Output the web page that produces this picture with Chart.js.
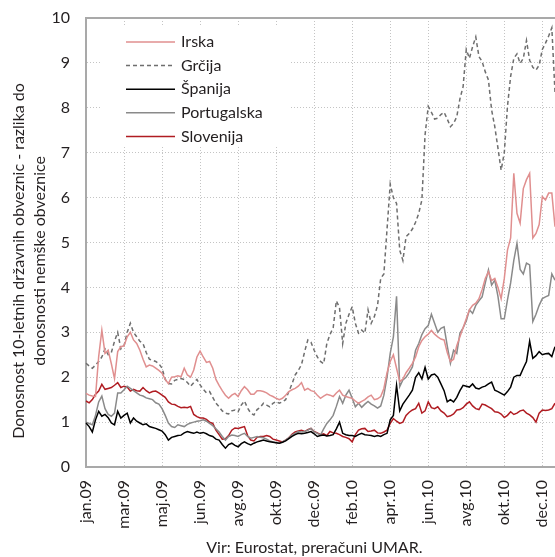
<!DOCTYPE html>
<html>
<head>
<meta charset="utf-8">
<script src="https://cdn.jsdelivr.net/npm/chart.js@4.4.0/dist/chart.umd.min.js"></script>
<style>
  html, body { margin: 0; padding: 0; background: #fff; overflow: hidden; }
  #wrap { width: 555px; height: 557px; position: relative; }
</style>
</head>
<body>
<div id="wrap"><canvas id="chart"></canvas></div>
<script>
// tick labels on the x axis, one every 12 points
var tickLabels = ['jan.09', 'mar.09', 'maj.09', 'jun.09', 'avg.09', 'okt.09', 'dec.09',
  'feb.10', 'apr.10', 'jun.10', 'avg.10', 'okt.10', 'dec.10'];
var pointsPerTick = 12;

var seriesNames = ['Irska', 'Grčija', 'Španija', 'Portugalska', 'Slovenija'];

var irska = [
  1.64,1.6,1.58,1.57,2.46,3.05,2.53,2.6,2.3,1.97,2.57,2.68,
  2.7,2.9,3.0,2.83,2.75,2.6,2.4,2.23,2.27,2.25,2.2,2.15,
  2.09,1.95,1.86,2.0,2.01,2.03,2.01,2.2,2.05,2.0,2.16,2.45,
  2.58,2.45,2.33,2.35,2.2,1.95,1.82,1.7,1.6,1.53,1.6,1.64,
  1.57,1.7,1.79,1.72,1.62,1.62,1.7,1.7,1.68,1.65,1.6,1.57,
  1.53,1.5,1.53,1.6,1.68,1.72,1.75,1.8,1.88,1.71,1.75,1.7,
  1.68,1.6,1.53,1.58,1.62,1.6,1.57,1.65,1.71,1.6,1.57,1.55,
  1.53,1.47,1.42,1.46,1.5,1.56,1.6,1.5,1.52,1.57,1.75,2.1,
  2.35,2.5,2.2,1.9,1.96,2.1,2.2,2.31,2.45,2.68,2.82,2.9,
  2.96,3.04,2.96,2.9,2.85,2.83,2.55,2.35,2.4,2.7,2.9,3.1,
  3.3,3.5,3.6,3.65,3.75,3.95,4.2,4.35,4.15,4.2,4.0,3.75,
  4.2,4.83,5.1,6.54,5.65,5.43,6.2,6.4,6.54,5.1,5.2,5.4,
  6.02,5.95,6.1,6.1,5.35
];

var grcija = [
  2.31,2.25,2.2,2.27,2.35,2.45,2.63,2.5,2.55,2.8,3.0,2.63,
  2.7,3.0,3.2,3.0,2.9,2.8,2.75,2.55,2.4,2.38,2.35,2.3,
  2.2,1.95,1.86,1.85,1.93,1.95,1.97,1.95,1.88,1.8,1.88,1.95,
  1.83,1.73,1.65,1.68,1.55,1.42,1.34,1.25,1.2,1.18,1.25,1.27,
  1.23,1.38,1.47,1.31,1.2,1.16,1.28,1.33,1.42,1.38,1.34,1.42,
  1.46,1.42,1.45,1.5,1.68,1.85,2.05,2.15,2.28,2.57,2.83,2.78,
  2.6,2.45,2.35,2.3,2.75,2.95,3.1,3.7,3.55,2.75,3.2,3.4,
  3.57,3.2,2.98,3.05,2.98,3.5,3.2,3.35,3.6,4.2,4.3,5.3,
  6.3,6.0,5.87,4.83,4.6,5.13,5.2,5.3,5.45,5.65,5.95,7.4,
  8.03,7.9,7.75,7.77,7.85,7.9,7.75,7.58,7.65,7.8,8.2,8.47,
  9.3,9.1,9.36,9.58,9.14,9.03,8.8,8.62,7.95,7.58,7.1,6.61,
  7.0,8.03,8.7,9.1,9.2,8.99,9.1,9.5,9.06,8.9,8.84,8.95,
  9.3,9.44,9.6,9.78,8.35
];

var spanija = [
  0.98,0.9,0.78,1.05,1.24,1.13,1.17,1.1,0.98,0.94,1.24,1.09,
  1.15,1.2,0.98,1.09,1.02,0.98,0.94,0.96,0.9,0.88,0.86,0.83,
  0.8,0.72,0.6,0.66,0.68,0.7,0.71,0.76,0.79,0.77,0.75,0.78,
  0.75,0.77,0.74,0.7,0.68,0.62,0.6,0.5,0.42,0.5,0.53,0.48,
  0.45,0.52,0.56,0.52,0.49,0.53,0.56,0.58,0.6,0.58,0.56,0.55,
  0.54,0.53,0.55,0.58,0.63,0.68,0.72,0.75,0.74,0.75,0.77,0.79,
  0.74,0.68,0.7,0.71,0.69,0.7,0.72,0.85,1.0,0.75,0.72,0.7,
  0.7,0.68,0.72,0.75,0.72,0.71,0.7,0.68,0.7,0.68,0.72,0.75,
  1.05,1.15,1.82,1.25,1.4,1.5,1.6,1.71,2.0,2.1,1.96,2.22,
  1.96,2.05,2.07,2.0,1.85,1.7,1.45,1.5,1.45,1.55,1.7,1.82,
  1.8,1.78,1.85,1.76,1.74,1.78,1.8,1.85,1.89,1.71,1.68,1.64,
  1.6,1.68,1.78,2.0,2.04,2.04,2.2,2.35,2.8,2.42,2.48,2.57,
  2.5,2.52,2.53,2.46,2.68
];

var portugalska = [
  1.0,0.97,0.94,1.15,1.45,1.58,1.3,1.17,1.13,1.2,1.65,1.65,
  1.72,1.8,1.75,1.7,1.65,1.6,1.58,1.54,1.52,1.5,1.43,1.4,
  1.3,1.15,0.98,0.9,0.88,0.94,0.92,0.9,0.95,0.98,1.0,1.02,
  1.03,1.05,1.02,0.97,0.92,0.85,0.78,0.68,0.6,0.68,0.71,0.7,
  0.68,0.72,0.75,0.68,0.64,0.66,0.68,0.66,0.65,0.62,0.58,0.56,
  0.54,0.53,0.56,0.6,0.65,0.71,0.75,0.79,0.78,0.79,0.82,0.86,
  0.78,0.75,0.71,0.85,0.97,1.05,1.15,1.35,1.57,1.42,1.6,1.71,
  1.53,1.34,1.42,1.33,1.4,1.46,1.4,1.36,1.31,1.36,1.6,2.0,
  2.53,2.9,3.8,1.79,1.94,2.0,2.1,2.23,2.6,2.75,2.95,3.08,
  3.15,3.4,3.2,3.0,3.09,3.12,2.7,2.31,2.6,2.53,2.98,3.1,
  3.25,3.5,3.42,3.6,3.7,3.79,4.1,4.39,4.05,4.16,3.8,3.3,
  3.3,3.72,4.1,4.6,4.98,4.4,4.3,4.54,4.5,3.24,3.4,3.6,
  3.75,3.79,3.82,4.3,4.16
];

var slovenija = [
  1.47,1.43,1.5,1.62,1.69,1.84,1.73,1.75,1.77,1.82,1.88,1.77,
  1.8,1.78,1.69,1.73,1.7,1.69,1.77,1.7,1.65,1.68,1.69,1.65,
  1.6,1.55,1.45,1.4,1.39,1.35,1.32,1.33,1.32,1.35,1.17,1.12,
  1.09,1.09,1.06,1.0,0.97,0.82,0.72,0.62,0.63,0.7,0.82,0.87,
  0.86,0.88,0.9,0.7,0.6,0.58,0.66,0.68,0.68,0.7,0.68,0.62,
  0.6,0.58,0.56,0.6,0.65,0.73,0.78,0.8,0.82,0.79,0.83,0.86,
  0.79,0.76,0.72,0.74,0.7,0.79,0.76,0.75,0.72,0.68,0.66,0.63,
  0.56,0.72,0.82,0.85,0.86,0.79,0.8,0.82,0.76,0.75,0.78,0.82,
  0.97,1.08,1.02,0.97,1.0,1.15,1.22,1.27,1.3,1.42,1.2,1.25,
  1.45,1.32,1.3,1.34,1.25,1.2,1.12,1.14,1.18,1.27,1.28,1.32,
  1.4,1.45,1.36,1.3,1.28,1.4,1.38,1.34,1.3,1.23,1.22,1.18,
  1.1,1.15,1.23,1.17,1.2,1.25,1.27,1.2,1.16,1.1,1.0,1.2,
  1.27,1.26,1.27,1.3,1.42
];

// one category per point, named only where a tick label falls
var labels = irska.map(function (v, i) {
  return i % pointsPerTick === 0 ? (tickLabels[i / pointsPerTick] || '') : '';
});

var textColor = '#231f20';
var axisColor = '#a9a9a9';
var font = { family: 'Lato', size: 16 };

function line(name, data, color, dash) {
  return {
    label: name,
    data: data,
    borderColor: color,
    backgroundColor: color,
    borderWidth: 1.5,
    borderDash: dash || [],
    pointRadius: 0,
    tension: 0,
    fill: false
  };
}

// legend drawn inside the plot on a white box, plus the solid top frame line
var boxLegend = {
  id: 'boxLegend',
  beforeDatasetsDraw: function (chart) {
    var c = chart.ctx;
    var a = chart.chartArea;
    c.save();
    c.strokeStyle = axisColor;
    c.lineWidth = 2;
    c.beginPath();
    c.moveTo(a.left, a.top);
    c.lineTo(a.right, a.top);
    c.stroke();

    c.fillStyle = '#fff';
    c.fillRect(100, 25, 190, 122);
    c.font = font.size + 'px ' + font.family;
    c.textBaseline = 'middle';
    c.textAlign = 'left';
    chart.data.datasets.forEach(function (ds, i) {
      var y = 42 + i * 23.6;
      c.strokeStyle = ds.borderColor;
      c.lineWidth = ds.borderWidth;
      c.setLineDash(ds.borderDash);
      c.beginPath();
      c.moveTo(126, y);
      c.lineTo(175, y);
      c.stroke();
      c.setLineDash([]);
      c.fillStyle = textColor;
      c.fillText(ds.label, 181, y);
    });
    c.restore();
  }
};

new Chart(document.getElementById('chart'), {
  type: 'line',
  data: {
    labels: labels,
    datasets: [
      line(seriesNames[0], irska, '#e08f8f'),
      line(seriesNames[1], grcija, '#6e6e6e', [4, 3]),
      line(seriesNames[2], spanija, '#000000'),
      line(seriesNames[3], portugalska, '#8a8a8a'),
      line(seriesNames[4], slovenija, '#b01c22')
    ]
  },
  options: {
    responsive: true,
    maintainAspectRatio: false,
    animation: false,
    layout: { padding: { top: 18, right: 0, bottom: 0, left: 0 } },
    plugins: {
      legend: { display: false },
      tooltip: { enabled: false }
    },
    scales: {
      x: {
        type: 'category',
        grid: { color: '#c4c4c4', lineWidth: 1, drawTicks: false },
        border: { display: true, color: axisColor, width: 2, dash: [1, 2] },
        ticks: {
          autoSkip: false,
          maxRotation: 90,
          minRotation: 90,
          padding: 13,
          color: textColor,
          font: font,
          callback: function (value) {
            return this.getLabelForValue(value) || null;
          }
        },
        title: {
          display: true,
          text: 'Vir: Eurostat, preračuni UMAR.\u00a0\u00a0\u00a0',
          color: textColor,
          font: font,
          padding: { top: 0, bottom: 0 }
        },
        afterFit: function (scale) {
          scale.height = 90;
          scale.paddingLeft = 0;
          scale.paddingRight = 0;
        }
      },
      y: {
        min: 0,
        max: 10,
        grid: { color: '#c4c4c4', lineWidth: 1, drawTicks: false },
        border: { display: true, color: axisColor, width: 2, dash: [1, 2] },
        ticks: {
          stepSize: 1,
          padding: 16,
          color: textColor,
          font: font
        },
        title: {
          display: true,
          text: ['Donosnost 10-letnih državnih obveznic - razlika do\u00a0\u00a0\u00a0\u00a0\u00a0\u00a0\u00a0\u00a0\u00a0',
                 'donosnosti nemške obveznice\u00a0\u00a0\u00a0\u00a0\u00a0\u00a0\u00a0\u00a0\u00a0'],
          color: textColor,
          font: { family: 'Lato', size: 16, lineHeight: 1.3125 },
          padding: { top: 8, bottom: 0 }
        },
        afterFit: function (scale) {
          scale.width = 86;
          scale.paddingTop = 0;
          scale.paddingBottom = 0;
        }
      }
    }
  },
  plugins: [boxLegend]
});
</script>
</body>
</html>
